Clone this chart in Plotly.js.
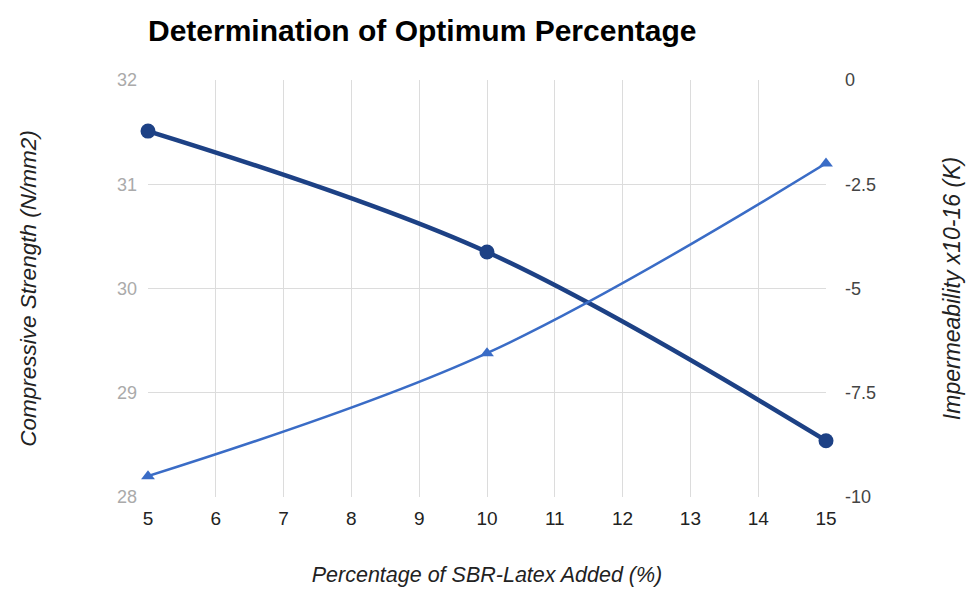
<!DOCTYPE html>
<html>
<head>
<meta charset="utf-8">
<script src="https://cdn.plot.ly/plotly-3.0.1.min.js"></script>
<style>
  html, body { margin: 0; padding: 0; background: #fff; }
  #chart { width: 979px; height: 592px; }
</style>
</head>
<body>
<div id="chart"></div>
<script>
// SBR-latex dosage (%) and the two measured properties
const latexPercent = [5, 10, 15];
const compressiveStrength = [31.51, 30.35, 28.54];   // N/mm2, left axis
const impermeability = [-9.5, -6.55, -2.0];          // x10-16 (K), right axis

const leftTicks = [28, 29, 30, 31, 32];
const rightTicks = [-10, -7.5, -5, -2.5, 0];
const rightTickText = ['-10', '-7.5', '-5', '-2.5', '0'];
const xTicks = [5, 6, 7, 8, 9, 10, 11, 12, 13, 14, 15];

const FONT = 'Liberation Sans, Arial, sans-serif';

const traces = [
  {
    x: latexPercent,
    y: compressiveStrength,
    name: 'Compressive Strength',
    type: 'scatter',
    mode: 'lines+markers',
    cliponaxis: false,
    line: { color: '#1d4185', width: 4.5, shape: 'spline', smoothing: 1 },
    marker: { symbol: 'circle', size: 15, color: '#1d4185' },
    yaxis: 'y',
    hoverinfo: 'skip'
  },
  {
    x: latexPercent,
    y: impermeability,
    name: 'Impermeability',
    type: 'scatter',
    mode: 'lines+markers',
    cliponaxis: false,
    line: { color: '#3a6cc6', width: 2.5, shape: 'spline', smoothing: 1 },
    marker: { symbol: 'triangle-up', size: 12, color: '#3a6cc6' },
    yaxis: 'y2',
    hoverinfo: 'skip'
  }
];

const layout = {
  width: 979,
  height: 592,
  paper_bgcolor: '#ffffff',
  plot_bgcolor: '#ffffff',
  showlegend: false,
  margin: { l: 148, r: 153, t: 80, b: 95, pad: 0 },
  title: {
    text: '<b>Determination of Optimum Percentage</b>',
    font: { family: FONT, size: 30, color: '#000' },
    xref: 'paper', x: 0, xanchor: 'left',
    yref: 'container', y: 0.948, yanchor: 'middle'
  },
  xaxis: {
    range: [5, 15],
    tickvals: xTicks,
    ticktext: xTicks.map(String),
    showgrid: true,
    gridcolor: '#dcdcdc',
    gridwidth: 1,
    zeroline: false,
    showline: false,
    ticks: '',
    ticklabelstandoff: 8,
    tickfont: { family: FONT, size: 19, color: '#222' },
    title: {
      text: 'Percentage of SBR-Latex Added (%)',
      font: { family: FONT, size: 21.5, color: '#222', style: 'italic' },
      standoff: 38
    }
  },
  yaxis: {
    range: [28, 32],
    tickvals: leftTicks,
    ticktext: leftTicks.map(String),
    showgrid: true,
    gridcolor: '#dcdcdc',
    gridwidth: 1,
    zeroline: false,
    showline: false,
    ticks: '',
    ticklabelstandoff: 10,
    tickfont: { family: FONT, size: 18, color: '#aaaaaa' },
    title: {
      text: 'Compressive Strength (N/mm2)',
      font: { family: FONT, size: 22.5, color: '#222', style: 'italic' },
      standoff: 74
    }
  },
  yaxis2: {
    range: [-10, 0],
    overlaying: 'y',
    side: 'right',
    tickvals: rightTicks,
    ticktext: rightTickText,
    showgrid: false,
    zeroline: false,
    showline: false,
    ticks: '',
    ticklabelstandoff: 18,
    tickfont: { family: FONT, size: 18, color: '#444' },
    title: {
      text: 'Impermeability x10-16 (K)',
      font: { family: FONT, size: 23, color: '#222', style: 'italic' },
      standoff: 68
    }
  }
};

Plotly.newPlot('chart', traces, layout, { displayModeBar: false, staticPlot: true });
</script>
</body>
</html>
